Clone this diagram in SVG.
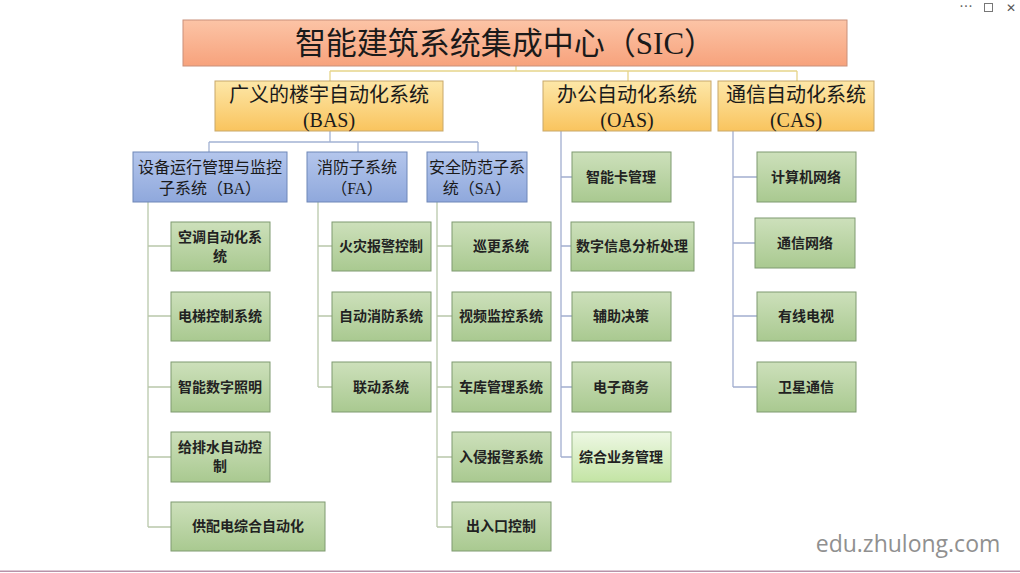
<svg xmlns="http://www.w3.org/2000/svg" width="1020" height="573" viewBox="0 0 1020 573">
<defs>
<linearGradient id="gSic" x1="0" y1="0" x2="0" y2="1"><stop offset="0" stop-color="#fcc4a6"/><stop offset="1" stop-color="#f7a27c"/></linearGradient>
<linearGradient id="gL1" x1="0" y1="0" x2="0" y2="1"><stop offset="0" stop-color="#fde7a8"/><stop offset="1" stop-color="#f9c45e"/></linearGradient>
<linearGradient id="gL2" x1="0" y1="0" x2="0" y2="1"><stop offset="0" stop-color="#b4c6ec"/><stop offset="1" stop-color="#8fa8dc"/></linearGradient>
<linearGradient id="gLeaf" x1="0" y1="0" x2="0" y2="1"><stop offset="0" stop-color="#cde0bb"/><stop offset="1" stop-color="#a9c990"/></linearGradient>
<linearGradient id="gLeafHi" x1="0" y1="0" x2="0" y2="1"><stop offset="0" stop-color="#eef8e4"/><stop offset="1" stop-color="#c3e4a4"/></linearGradient>
</defs>
<style>
.sic{fill:url(#gSic);stroke:#c9907a;stroke-width:1}
.l1{fill:url(#gL1);stroke:#c8a86a;stroke-width:1}
.l2{fill:url(#gL2);stroke:#6f87b8;stroke-width:1}
.leaf{fill:url(#gLeaf);stroke:#7f9a70;stroke-width:1}
.leafhi{fill:url(#gLeafHi);stroke:#9ab88a;stroke-width:1}
.serif{font-family:"Liberation Serif","Noto Sans CJK SC",serif;fill:#1a1a1a;text-anchor:middle}
.t0{font-size:31px}
.t1{font-size:20px}
.t2{font-size:16px}
.lt{font-family:"Noto Sans CJK SC",sans-serif;font-size:14px;font-weight:bold;fill:#222;text-anchor:middle}
.cy{fill:none;stroke:#e6d58a;stroke-width:1.3}
.cb{fill:none;stroke:#a3b2d3;stroke-width:1.3}
.cg{fill:none;stroke:#b9c8ab;stroke-width:1.3}
.cbl{fill:none;stroke:#a2aed0;stroke-width:1.3}
</style>
<rect width="1020" height="573" fill="#ffffff"/>
<g id="connectors">
<path class="cy" d="M516 66V71M330 71H797M330 71V81M628 71V81M797 71V81"/>
<path class="cb" d="M330 131V142M209 142H478M209 142V152M358 142V152M478 142V152"/>
<path class="cg" d="M148 202V527M148 246H171M148 316H171M148 387H171M148 457H171M148 527H171"/>
<path class="cg" d="M318 202V387M318 246H332M318 316H332M318 387H332"/>
<path class="cg" d="M437 202V527M437 246H452M437 316H452M437 387H452M437 457H452M437 527H452"/>
<path class="cbl" d="M561 131V457M561 177H572M561 246H571M561 316H572M561 387H572M561 457H572"/>
<path class="cbl" d="M733 131V387M733 177H757M733 243H755M733 316H757M733 387H757"/>
</g>
<g id="sic"><rect class="sic" x="183" y="20" width="664" height="46"/><text class="serif t0" x="505" y="54">智能建筑系统集成中心（SIC）</text></g>
<g id="bas"><rect class="l1" x="215" y="81" width="228" height="50"/><text class="serif t1" x="329" y="102">广义的楼宇自动化系统</text><text class="serif t1" x="329" y="127">(BAS)</text></g>
<g id="oas"><rect class="l1" x="543" y="81" width="168" height="50"/><text class="serif t1" x="627" y="102">办公自动化系统</text><text class="serif t1" x="627" y="127">(OAS)</text></g>
<g id="cas"><rect class="l1" x="718" y="81" width="156" height="50"/><text class="serif t1" x="796" y="102">通信自动化系统</text><text class="serif t1" x="796" y="127">(CAS)</text></g>
<g id="ba"><rect class="l2" x="133" y="152" width="154" height="50"/><text class="serif t2" x="210" y="173">设备运行管理与监控</text><text class="serif t2" x="210" y="194">子系统（BA）</text></g>
<g id="fa"><rect class="l2" x="307" y="152" width="100" height="50"/><text class="serif t2" x="357" y="173">消防子系统</text><text class="serif t2" x="357" y="194">（FA）</text></g>
<g id="sa"><rect class="l2" x="427" y="152" width="100" height="50"/><text class="serif t2" x="477" y="173">安全防范子系</text><text class="serif t2" x="477" y="194">统（SA）</text></g>
<g id="ba1"><rect class="leaf" x="171" y="222" width="99" height="49"/><text class="lt" x="220" y="242">空调自动化系</text><text class="lt" x="220" y="261">统</text></g>
<g id="ba2"><rect class="leaf" x="171" y="292" width="99" height="49"/><text class="lt" x="220" y="321">电梯控制系统</text></g>
<g id="ba3"><rect class="leaf" x="171" y="362" width="99" height="50"/><text class="lt" x="220" y="392">智能数字照明</text></g>
<g id="ba4"><rect class="leaf" x="171" y="432" width="99" height="50"/><text class="lt" x="220" y="452">给排水自动控</text><text class="lt" x="220" y="471">制</text></g>
<g id="ba5"><rect class="leaf" x="171" y="502" width="154" height="49"/><text class="lt" x="248" y="531">供配电综合自动化</text></g>
<g id="fa1"><rect class="leaf" x="332" y="222" width="99" height="49"/><text class="lt" x="381" y="251">火灾报警控制</text></g>
<g id="fa2"><rect class="leaf" x="332" y="292" width="99" height="49"/><text class="lt" x="381" y="321">自动消防系统</text></g>
<g id="fa3"><rect class="leaf" x="332" y="362" width="99" height="50"/><text class="lt" x="381" y="392">联动系统</text></g>
<g id="sa1"><rect class="leaf" x="452" y="222" width="99" height="49"/><text class="lt" x="501" y="251">巡更系统</text></g>
<g id="sa2"><rect class="leaf" x="452" y="292" width="99" height="49"/><text class="lt" x="501" y="321">视频监控系统</text></g>
<g id="sa3"><rect class="leaf" x="452" y="362" width="99" height="50"/><text class="lt" x="501" y="392">车库管理系统</text></g>
<g id="sa4"><rect class="leaf" x="452" y="432" width="99" height="50"/><text class="lt" x="501" y="462">入侵报警系统</text></g>
<g id="sa5"><rect class="leaf" x="452" y="502" width="99" height="49"/><text class="lt" x="501" y="531">出入口控制</text></g>
<g id="oa1"><rect class="leaf" x="572" y="152" width="99" height="50"/><text class="lt" x="621" y="182">智能卡管理</text></g>
<g id="oa2"><rect class="leaf" x="571" y="222" width="123" height="49"/><text class="lt" x="632" y="251">数字信息分析处理</text></g>
<g id="oa3"><rect class="leaf" x="572" y="292" width="99" height="49"/><text class="lt" x="621" y="321">辅助决策</text></g>
<g id="oa4"><rect class="leaf" x="572" y="362" width="99" height="50"/><text class="lt" x="621" y="392">电子商务</text></g>
<g id="oa5"><rect class="leafhi" x="572" y="432" width="99" height="50"/><text class="lt" x="621" y="462">综合业务管理</text></g>
<g id="ca1"><rect class="leaf" x="757" y="152" width="99" height="50"/><text class="lt" x="806" y="182">计算机网络</text></g>
<g id="ca2"><rect class="leaf" x="755" y="218" width="100" height="50"/><text class="lt" x="805" y="248">通信网络</text></g>
<g id="ca3"><rect class="leaf" x="757" y="292" width="99" height="49"/><text class="lt" x="806" y="321">有线电视</text></g>
<g id="ca4"><rect class="leaf" x="757" y="362" width="99" height="50"/><text class="lt" x="806" y="392">卫星通信</text></g>
<text x="908" y="552" font-family="'Open Sans',sans-serif" font-size="23" fill="#909090" text-anchor="middle">edu.zhulong.com</text>
<text x="966" y="11" font-family="'DejaVu Sans',sans-serif" font-size="14" fill="#666" text-anchor="middle">···</text>
<rect x="984.5" y="3.5" width="8" height="8" fill="none" stroke="#777" stroke-width="1"/>
<text x="1011" y="12" font-family="'DejaVu Sans',sans-serif" font-size="12" fill="#555" text-anchor="middle">✕</text>
<rect x="0" y="570.5" width="1020" height="1.5" fill="#b892a8"/>
</svg>
